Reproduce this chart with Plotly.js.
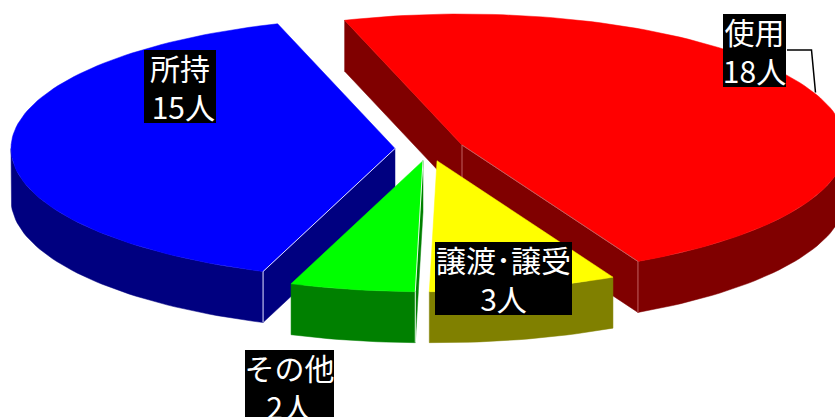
<!DOCTYPE html>
<html><head><meta charset="utf-8">
<script src="https://cdn.plot.ly/plotly-3.0.0.min.js"></script>
<style>html,body{margin:0;padding:0;background:#fff}</style>
</head><body><div id="chart" style="width:835px;height:417px"></div>
<script>
// values
const names = ["使用", "譲渡･譲受", "その他", "所持"];
const counts = [18, 3, 2, 15];
const units = ["18人", "3人", "2人", " 15人"];
const topColors = ["#ff0000", "#ffff00", "#00ff00", "#0000ff"];
const wallColors = ["#800000", "#808000", "#008000", "#000080"];
const jointColors = ["#c06060", "#c0c060", "#e8f8e8", "#e0e0ff"];
// geometry of the tilted, exploded pie (axis units)
const centerX = [462, 437, 423, 395];
const centerY = [145, 160.7, 160.7, 148.5];
const radiusX = 384, radiusY = 131, depth = 51, startDeg = -17.8;
// label boxes
const labelX = [754.5, 503.5, 289.5, 180];
const labelY = [50.5, 278.5, 386.5, 86.5];
const labelW = [63, 137, 89, 72];
const leaderX = [787, 811.5, 815.5], leaderY = [50, 50, 92.5];

const total = counts.reduce((a, b) => a + b, 0);
const traces = [];
function poly(xs, ys, color) {
  traces.push({type: "scatter", mode: "lines", x: xs.concat(xs[0]), y: ys.concat(ys[0]),
    fill: "toself", fillcolor: color, hoverinfo: "skip", showlegend: false,
    line: {color: color, width: 0.5}});
}
function joint(xs, ys, color) {
  traces.push({type: "scatter", mode: "lines", x: xs, y: ys, hoverinfo: "skip", showlegend: false,
    line: {color: color, width: 1}});
}
let cum = 0;
const spans = counts.map(v => { const a = startDeg + cum / total * 360; cum += v; return [a, startDeg + cum / total * 360]; });
function pt(i, deg) {
  const r = deg * Math.PI / 180;
  return [centerX[i] + radiusX * Math.sin(r), centerY[i] - radiusY * Math.cos(r)];
}
function arc(i, a, b) {
  const out = [], n = Math.max(2, Math.ceil(Math.abs(b - a) / 1.5));
  for (let k = 0; k <= n; k++) out.push(pt(i, a + (b - a) * k / n));
  return out;
}
function drawSlice(i) {
  const [a, b] = spans[i];
  const cx = centerX[i], cy = centerY[i];
  const P = pt(i, a), Q = pt(i, b);
  // straight walls
  if (i === 0) {
    poly([P[0], cx, cx, P[0]], [P[1], cy, cy + depth, P[1] + depth], wallColors[i]);
    poly([cx, Q[0], Q[0], cx], [cy, Q[1], Q[1] + depth, cy + depth], wallColors[i]);
  }
  if (i === 2 || i === 3) poly([cx, P[0], P[0], cx], [cy, P[1], P[1] + depth, cy + depth], wallColors[i]);
  // outer rim: only the part on the near half of the ellipse
  const lo = Math.max(a, 90), hi = Math.min(b, 270);
  if (hi > lo) {
    const rim = arc(i, lo, hi), rev = rim.slice().reverse();
    poly(rim.map(p => p[0]).concat(rev.map(p => p[0])),
         rim.map(p => p[1]).concat(rev.map(p => p[1] + depth)), wallColors[i]);
  }
  // top face
  const top = arc(i, a, b);
  poly([cx].concat(top.map(p => p[0])), [cy].concat(top.map(p => p[1])), topColors[i]);
  // pale joints between the faces
  if (i === 0) {
    joint([cx, cx], [cy, cy + depth], jointColors[i]);
    joint([cx, Q[0], Q[0]], [cy, Q[1], Q[1] + depth], jointColors[i]);
  }
  if (i === 2 || i === 3) joint([cx, P[0], P[0]], [cy, P[1], P[1] + depth], jointColors[i]);
}
[3, 0, 1, 2].forEach(drawSlice);
traces.push({type: "scatter", mode: "lines", x: leaderX, y: leaderY, hoverinfo: "skip", showlegend: false,
  line: {color: "#000000", width: 1.5}});

const annotations = names.map((n, i) => ({
  x: labelX[i], y: labelY[i], xref: "x", yref: "y", xanchor: "center", yanchor: "middle",
  text: n + "<br>" + units[i], showarrow: false, align: "center", valign: "middle",
  width: labelW[i], height: 73, bgcolor: "#000000", borderpad: 0, borderwidth: 0,
  font: {family: '"Noto Sans CJK JP", sans-serif', size: 30, color: "#ffffff"}
}));

Plotly.newPlot("chart", traces, {
  width: 835, height: 417, margin: {l: 0, r: 0, t: 0, b: 0},
  paper_bgcolor: "#ffffff", plot_bgcolor: "#ffffff", showlegend: false,
  xaxis: {range: [0, 835], visible: false, fixedrange: true},
  yaxis: {range: [417, 0], visible: false, fixedrange: true},
  annotations: annotations
}, {displayModeBar: false, staticPlot: true});
</script></body></html>
